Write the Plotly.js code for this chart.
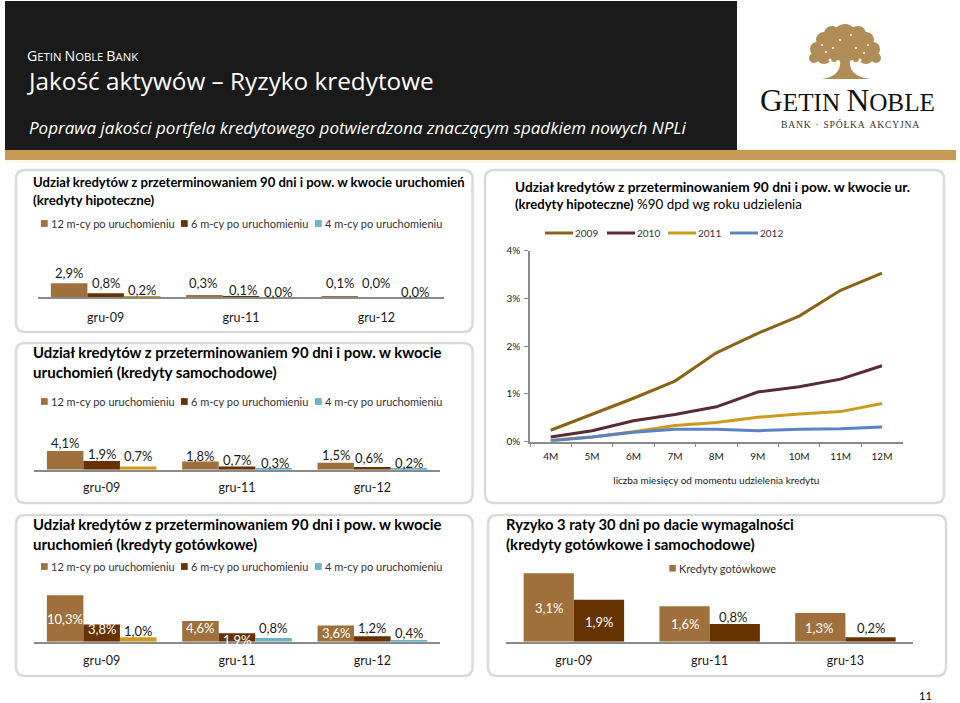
<!DOCTYPE html>
<html><head><meta charset="utf-8">
<script src="https://cdn.plot.ly/plotly-3.0.1.min.js"></script>
<style>html,body{margin:0;padding:0;background:#fff}#c{width:960px;height:703px}</style>
</head><body><div id="c"></div>
<script>
// ---------- data ----------
const dates = ['gru-09','gru-11','gru-12'];
const datesRisk = ['gru-09','gru-11','gru-13'];
const seriesNames = ['12 m-cy po uruchomieniu','6 m-cy po uruchomieniu','4 m-cy po uruchomieniu'];
const riskNames = ['Kredyty gotówkowe','Kredyty samochodowe'];
const mortgage12 = [2.9,0.3,0.1], mortgage6 = [0.8,0.1,0.0], mortgage4 = [0.2,0.0,0.0];
const auto12 = [4.1,1.8,1.5], auto6 = [1.9,0.7,0.6], auto4 = [0.7,0.3,0.2];
const cash12 = [10.3,4.6,3.6], cash6 = [3.8,1.9,1.2], cash4 = [1.0,0.8,0.4];
const riskCash = [3.1,1.6,1.3], riskAuto = [1.9,0.8,0.2];
const months = ['4M','5M','6M','7M','8M','9M','10M','11M','12M'];
const vintage2009 = [0.24,0.57,0.91,1.27,1.86,2.27,2.63,3.17,3.53];
const vintage2010 = [0.10,0.23,0.44,0.57,0.73,1.04,1.15,1.31,1.59];
const vintage2011 = [0.03,0.10,0.21,0.34,0.40,0.51,0.58,0.63,0.80];
const vintage2012 = [0.02,0.10,0.20,0.26,0.26,0.23,0.26,0.27,0.31];
// ---------- styles ----------
const W=960,H=703,F='Lato, Carlito, sans-serif';
const BROWN='#A0703C',DARK='#663300',GOLD='#CC9A1E',TEAL='#6DB1C6',LOGO='#B08D57',FRAME='#D9D9D9',AXIS='#8A8A8A',TXT='#1a1a1a';
const px=x=>x/W, py=y=>1-y/H;
const fmt=v=>v.toFixed(1).replace('.',',')+'%';
const shapes=[],annotations=[],traces=[];
function rect(x0,y0,x1,y1,fill,layer){shapes.push({type:'rect',xref:'paper',yref:'paper',x0:px(x0),x1:px(x1),y0:py(y0),y1:py(y1),fillcolor:fill,line:{width:0},layer:layer||'below'});}
function frame(x0,y0,x1,y1){const r=9;
 const p=(x,y)=>px(x)+','+py(y);
 shapes.push({type:'path',xref:'paper',yref:'paper',layer:'below',line:{color:FRAME,width:2.5},fillcolor:'#fff',
 path:`M${p(x0+r,y0)} L${p(x1-r,y0)} Q${p(x1,y0)} ${p(x1,y0+r)} L${p(x1,y1-r)} Q${p(x1,y1)} ${p(x1-r,y1)} L${p(x0+r,y1)} Q${p(x0,y1)} ${p(x0,y1-r)} L${p(x0,y0+r)} Q${p(x0,y0)} ${p(x0+r,y0)} Z`});}
function text(t,x,y,size,opt={}){annotations.push({xref:'paper',yref:'paper',x:px(x),y:py(y),text:t,showarrow:false,xanchor:opt.a||'left',yanchor:'middle',align:'left',
 font:{family:opt.f||F,size:size,color:opt.c||'#000'},borderpad:0});}
function circ(cx,cy,r,fill){shapes.push({type:'circle',xref:'paper',yref:'paper',x0:px(cx-r),x1:px(cx+r),y0:py(cy+r),y1:py(cy-r),fillcolor:fill,line:{width:0},layer:'below'});}

// header
rect(5,1,737,150,'#1A1A1A'); rect(5,150,956,160,'#C49A56'); rect(5,160,956,163,'#FDF7EA');
text('<span style="font-size:14.2px">G</span>ETIN <span style="font-size:14.2px">N</span>OBLE <span style="font-size:14.2px">B</span>ANK',25.5,55.5,11.3,{c:'#fff',f:'Open Sans, Lato'});
text('Jakość aktywów – Ryzyko kredytowe',25.5,80.5,24.3,{c:'#fff',f:'Open Sans, Lato'});
text('<i>Poprawa jakości portfela kredytowego potwierdzona znaczącym spadkiem nowych NPLi</i>',27.5,127,17,{c:'#fff',f:'Open Sans, Lato'});
// logo
const treeBlobs=[[845,36,12],[832,34,8],[858,34,8],[824,40,8],[866,40,8],[817,49,7],[873,49,7],[814,58,5],[876,58,5],[824,56,8],[866,56,8],[836,50,12],[854,50,12],[845,46,14]];
treeBlobs.forEach(b=>circ(b[0],b[1],b[2],LOGO));
shapes.push({type:'path',xref:'paper',yref:'paper',layer:'below',fillcolor:LOGO,line:{width:0},
 path:`M${px(840)},${py(60)} L${px(850)},${py(60)} Q${px(848)},${py(76)} ${px(870)},${py(79)} L${px(822)},${py(79)} Q${px(842)},${py(76)} ${px(840)},${py(60)} Z`});
[[830,60,1.5],[838,62,2],[852,62,2],[860,60,1.5],[822,45,1],[868,45,1],[840,40,1],[851,35,1],[856,48,1],[833,48,1],[826,52,1],[864,53,1]].forEach(b=>circ(b[0],b[1],b[2],'#fff'));
text('<span style="font-size:31.5px">G</span>ETIN <span style="font-size:31.5px">N</span>OBLE',759,100,25.2,{f:'Liberation Serif',c:'#111'});
text('B\u200AA\u200AN\u200AK\u2002\u00B7\u2002S\u200AP\u200AÓ\u200AŁ\u200AK\u200AA\u2002A\u200AK\u200AC\u200AY\u200AJ\u200AN\u200AA',780,124,9.6,{f:'Liberation Serif',c:'#333'});
// frames
frame(16,170,472.5,332); frame(16,343,472.5,503); frame(16,515,472.5,676); frame(485,170,944,503); frame(488,515,946,676);
// titles
text('<b>Udział kredytów z przeterminowaniem 90 dni i pow. w kwocie uruchomień</b>',32,181.5,13.07);
text('<b>(kredyty hipoteczne)</b>',32,199.5,13.4);
text('<b>Udział kredytów z przeterminowaniem 90 dni i pow. w kwocie</b>',32,351.5,14.87);
text('<b>uruchomień (kredyty samochodowe)</b>',32,371.5,15.08);
text('<b>Udział kredytów z przeterminowaniem 90 dni i pow. w kwocie</b>',32,524,14.87);
text('<b>uruchomień (kredyty gotówkowe)</b>',32,544,15);
text('<b>Udział kredytów z przeterminowaniem 90 dni i pow. w kwocie ur.</b>',514,186.5,13.7);
text('<b><span style="font-size:13.1px">(kredyty hipoteczne)</span></b> %90 dpd wg roku udzielenia',514,204.5,13.4);
text('<b>Ryzyko 3 raty 30 dni po dacie wymagalności</b>',504.5,523.5,14.74);
text('<b>(kredyty gotówkowe i samochodowe)</b>',504.5,544,15);
text('11',925,695,11,{a:'center'});

// hand-placed legends, as in the picture
function barLegend(y){[[41,BROWN,51],[181,DARK,191],[315,TEAL,324.5]].forEach((e,i)=>{rect(e[0],y-3.4,e[0]+6.7,y+3.4,e[1]);text(seriesNames[i],e[2]-1,y,11,{c:'#333'});});}
barLegend(223.5);barLegend(401.5);barLegend(566.5);
rect(669.3,565,675.8,571.6,BROWN);text(riskNames[0],677.7,568,11,{c:'#333'});

const layout={width:W,height:H,margin:{l:0,r:0,t:0,b:0},paper_bgcolor:'#fff',plot_bgcolor:'rgba(0,0,0,0)',showlegend:false,font:{family:F,color:TXT},barmode:'group',shapes,annotations};

function axes(id,x0,x1,y0,y1,cats,ymax,standoff){
 const n=id==1?'':id;
 layout['xaxis'+n]={domain:[px(x0),px(x1)],anchor:'y'+n,type:'category',categoryorder:'array',categoryarray:cats,range:[-0.5,cats.length-0.5],fixedrange:true,showgrid:false,zeroline:false,
  showline:true,linecolor:AXIS,linewidth:1.5,ticks:'',ticklabelstandoff:standoff,tickfont:{family:F,size:12.5,color:TXT}};
 layout['yaxis'+n]={domain:[py(y1),py(y0)],anchor:'x'+n,range:[0,ymax],visible:false,fixedrange:true};
}
function barPanel(id,x0,x1,base,top,pxPer,cats,series,names,colors,width,start,labelShiftY,labelShiftX,labelColors,standoff){
 axes(id,x0,x1,top,base,cats,(base-top)/pxPer,standoff);
 const n=id==1?'':id;
 series.forEach((vals,k)=>{
  const col=colors[k];
  const mk=(xs,ys,c)=>traces.push({type:'bar',x:xs,y:ys,name:names[k],xaxis:'x'+n,yaxis:'y'+n,width:width,offset:start+width*k,marker:{color:c,line:{width:0}},hoverinfo:'x+y+name'});
  // third series has a gold first bar and teal others in the picture
  if(Array.isArray(col)){mk(cats.slice(0,1),vals.slice(0,1),col[0]);mk(cats.slice(1),vals.slice(1),col[1]);}
  else mk(cats,vals,col);
  vals.forEach((v,g)=>annotations.push({xref:'x'+n,yref:'y'+n,x:g+start+width*(k+.5),y:v,text:fmt(v),showarrow:false,xanchor:'center',yanchor:'middle',
   xshift:labelShiftX[k][g],yshift:labelShiftY[k][g],font:{family:F,size:13,color:labelColors[k][g]},borderpad:0}));
 });
}
const blk=[TXT,TXT,TXT];
const third=[GOLD,TEAL];
barPanel(1,38,444,297,250,4.7,dates,[mortgage12,mortgage6,mortgage4],seriesNames,[BROWN,DARK,third],0.27,-0.405,
 [[10.4,12.6,13.5],[10.2,6.5,14],[6,5,5.3]],[[0,-1,0],[0,2,0],[0,0,2]],[blk,blk,blk],8);
barPanel(2,34,440,469.7,425,4.56,dates,[auto12,auto6,auto4],seriesNames,[BROWN,DARK,third],0.27,-0.405,
 [[8.3,5.8,7.9],[7,6.5,9],[10.8,5.6,6.1]],[[0,0,0],[0,0,-3],[0,1,0]],[blk,blk,blk],6);
barPanel(3,34,440,641.7,590,4.5,dates,[cash12,cash6,cash4],seriesNames,[BROWN,DARK,third],0.27,-0.405,
 [[-24,-7,-7.8],[-4.7,-6.8,8.3],[6.5,10,6.6]],[[0,0,0],[0,0,0],[0,-1,0]],[['#fff','#fff','#fff'],['#fff','#fff',TXT],blk],7);
barPanel(4,506,913.3,641.7,570,22.1,datesRisk,[riskCash,riskAuto],riskNames,[BROWN,DARK],0.37,-0.37,
 [[-35,-18,-15.3],[-22,6.7,9]],[[0,0,-1],[0,-2,0]],[['#fff','#fff','#fff'],['#fff',TXT,TXT]],7);

// line chart
layout.xaxis5={domain:[px(530),px(902.7)],anchor:'y5',type:'category',categoryorder:'array',categoryarray:months,range:[-0.5,8.5],fixedrange:true,showgrid:false,zeroline:false,showline:true,linecolor:AXIS,linewidth:1.5,
 ticks:'outside',ticklen:4,tickcolor:AXIS,tickwidth:1,tickson:'boundaries',tickfont:{family:F,size:10,color:TXT},ticklabelstandoff:5,
 title:{text:'liczba miesięcy od momentu udzielenia kredytu',font:{family:F,size:10,color:TXT},standoff:16}};
layout.yaxis5={domain:[py(441.7),py(250.7)],anchor:'x5',range:[0,4],dtick:1,ticksuffix:'%',fixedrange:true,showgrid:false,zeroline:false,showline:true,linecolor:AXIS,linewidth:1.5,ticks:'outside',ticklen:4,tickcolor:AXIS,tickwidth:1,tickfont:{family:F,size:10,color:TXT},ticklabelstandoff:2};
[['2009',vintage2009,'#8A6414',545],['2010',vintage2010,'#5A2A35',607],['2011',vintage2011,'#CC9A1E',668],['2012',vintage2012,'#5B82C4',730]].forEach(s=>{
 traces.push({type:'scatter',mode:'lines',x:months,y:s[1],name:s[0],xaxis:'x5',yaxis:'y5',line:{color:s[2],width:3,shape:'linear'},hoverinfo:'x+y+name'});
 shapes.push({type:'line',xref:'paper',yref:'paper',x0:px(s[3]),x1:px(s[3]+28),y0:py(233),y1:py(233),line:{color:s[2],width:3},layer:'below'});
 text(s[0],s[3]+28.5,233,10,{c:'#333'});
});

Plotly.newPlot('c',traces,layout,{displayModeBar:false,responsive:false});
</script></body></html>
